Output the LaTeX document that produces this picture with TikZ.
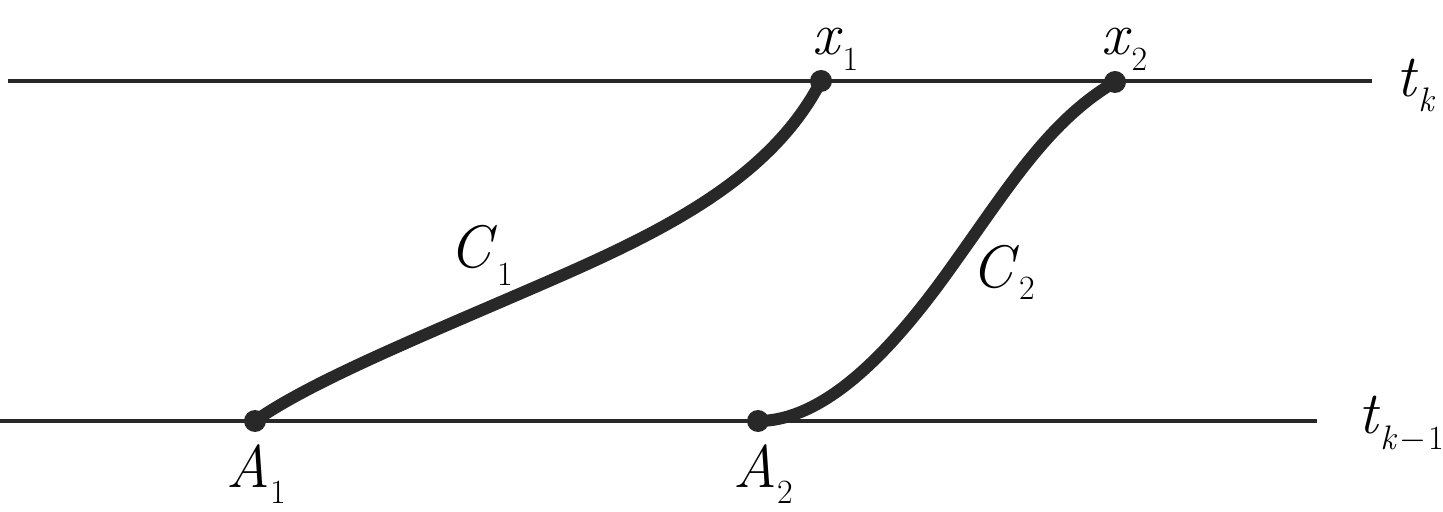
\documentclass[tikz,border=0pt]{standalone}
\definecolor{ink}{RGB}{40,40,40}
\newcommand{\lab}[3]{\textit{#1}\raisebox{-#3pt}{\fontsize{17}{17}\selectfont #2}}
\begin{document}
\begin{tikzpicture}[x=0.5pt,y=-0.5pt,
  thinline/.style={ink,line width=2.3pt},
  curve/.style={ink,line width=6pt,line cap=round},
  dot/.style={circle,fill=ink,inner sep=0pt,minimum size=11pt},
  lbl/.style={anchor=base west,inner sep=0pt,font=\fontsize{30}{31}\selectfont}]
\useasboundingbox (0,0) rectangle (1443,512);
\coordinate (Lt) at (8,81);
\coordinate (Rt) at (1372,81);
\coordinate (Lb) at (0,421);
\coordinate (Rb) at (1317,421);
\draw[thinline] (Lt) -- (Rt);
\draw[thinline] (Lb) -- (Rb);
\coordinate (A1) at (255,421);
\coordinate (A2) at (758,421);
\coordinate (X1) at (821,81);
\coordinate (X2) at (1115,82);
\coordinate (m1) at (540,285);
\coordinate (m2) at (955,262);
\draw[curve] (A1) .. controls (310,382) and (420,337) .. (m1) .. controls (660,233) and (770,180) .. (X1);
\draw[curve] (A2) .. controls (830,421) and (900,340) .. (m2) .. controls (1010,185) and (1050,120) .. (X2);
\node[dot] (dA1) at (A1) {};
\node[dot] (dA2) at (A2) {};
\node[dot] (dX1) at (X1) {};
\node[dot] (dX2) at (X2) {};
\node[lbl] (lx1) at (812,55) {\lab{x}{1}{8}};
\node[lbl] (lx2) at (1101,55) {\lab{x}{2}{8}};
\node[lbl] (ltk) at (1396,97) {\lab{t}{\textit{k}}{7.5}};
\node[lbl] (ltk1) at (1358,433) {\lab{t}{\textit{k}\kern1pt$-$\kern1pt1}{8.5}};
\node[lbl] (lA1) at (226,487) {\lab{A}{1}{8}};
\node[lbl] (lA2) at (733,487) {\lab{A}{2}{8}};
\node[lbl] (lC1) at (449,268) {\lab{C}{1}{9}};
\node[lbl] (lC2) at (971,288) {\lab{C}{2}{6}};
\end{tikzpicture}
\end{document}
